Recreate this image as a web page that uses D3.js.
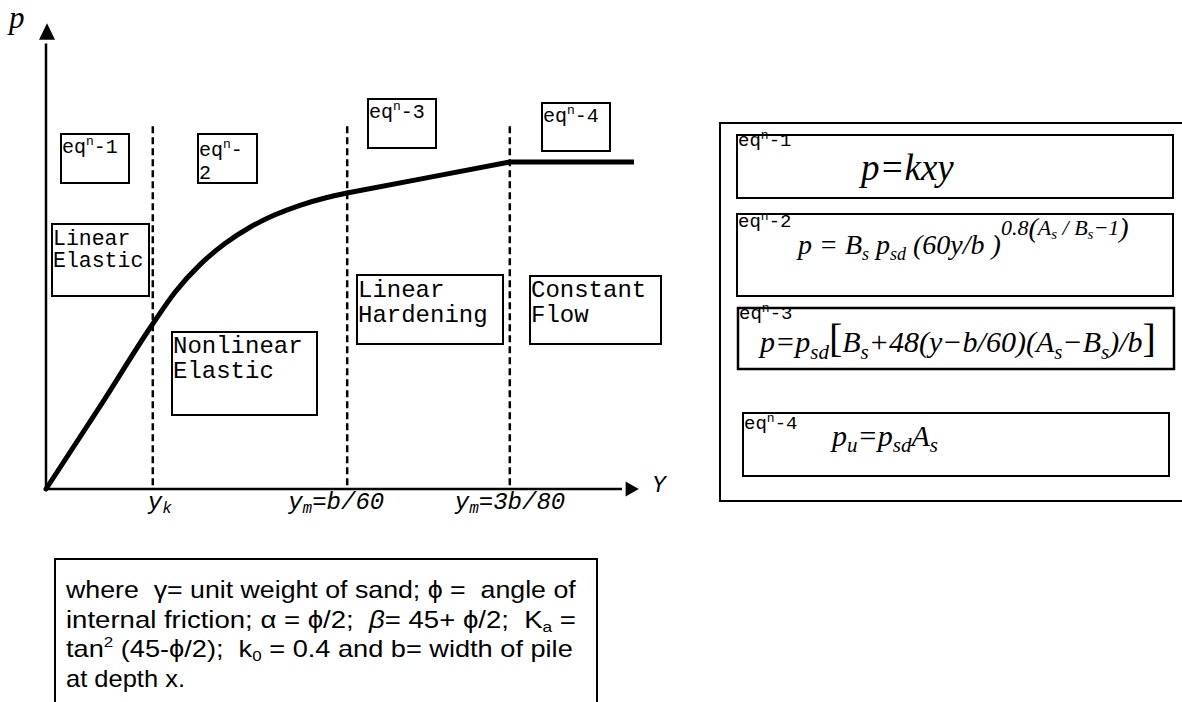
<!DOCTYPE html>
<html><head><meta charset="utf-8">
<script src="https://cdn.jsdelivr.net/npm/d3@7/dist/d3.min.js"></script>
<style>body{margin:0;background:#fff;overflow:hidden} svg{display:block} text{white-space:pre}</style>
</head><body><svg id="c" width="1182" height="702"></svg>
<script>
// ---- data (normalised units: displacement y 0-100, resistance p 0-100) ----
const dispNonlinear = [0, 9.0, 17.67, 21.5, 25.67, 29.83, 34.0, 38.17, 42.33, 46.5, 50.17];
const pNonlinear    = [0, 17.8, 35.34, 42.41, 48.36, 52.91, 56.42, 59.09, 61.14, 62.72, 63.79];
const dispLinear    = [50.17, 63.2, 77.3, 98.0];
const pLinear       = [63.79, 67.0, 70.5, 70.5];
const regionBounds  = [17.8, 50.2, 77.3];
const boundTop      = 78.2;
const tickLabels    = [["y", "k", ""], ["y", "m", "=b/60"], ["y", "m", "=3b/80"]];
const regionNames   = [["Linear", "Elastic"], ["Nonlinear", "Elastic"], ["Linear", "Hardening"], ["Constant", "Flow"]];
const eqNumbers     = ["1", "2", "3", "4"];

const svg = d3.select("#c");
const x = d3.scaleLinear().domain([0, 100]).range([46, 646]);
const y = d3.scaleLinear().domain([0, 100]).range([489, 25]);
const mono = "'Liberation Mono','Courier New',monospace";
const serif = "'Liberation Serif','Times New Roman',serif";
const sans = "'Liberation Sans',Arial,sans-serif";

function rich(sel, px, py, parts, o) {
  const t = sel.append("text").attr("x", px).attr("y", py)
    .attr("font-family", o.family).attr("font-size", o.size)
    .attr("font-style", o.italic ? "italic" : "normal").attr("fill", "#000");
  let cur = 0;
  parts.forEach(p => {
    const [txt, opt = {}] = Array.isArray(p) ? p : [p];
    const target = -(opt.shift || 0);
    const ts = t.append("tspan").attr("dy", target - cur).text(txt);
    if (opt.size) ts.attr("font-size", opt.size);
    if (opt.italic !== undefined) ts.attr("font-style", opt.italic ? "italic" : "normal");
    if (opt.family) ts.attr("font-family", opt.family);
    cur = target;
  });
  return t;
}
// sequence of separate text elements laid out left to right (o.rise lifts a segment)
function chain(sel, px, py, segs) {
  let cx = px;
  segs.forEach(([parts, o]) => {
    const t = rich(sel, cx, py - (o.rise || 0), parts, o);
    cx += t.node().getComputedTextLength();
  });
}
function box(sel, x0, y0, x1, y1, w) {
  sel.append("rect").attr("x", x0).attr("y", y0).attr("width", x1 - x0).attr("height", y1 - y0)
    .attr("fill", "none").attr("stroke", "#000").attr("stroke-width", w || 2);
}

// ---- axes ----
const ax = svg.append("g");
ax.append("line").attr("x1", x(0)).attr("y1", y(0)).attr("x2", x(0)).attr("y2", y(96)).attr("stroke", "#000").attr("stroke-width", 2.5);
ax.append("path").attr("d", `M${x(0)+1},${y(100.4)} L${x(0)-7},${y(96.8)} L${x(0)+9},${y(96.8)} Z`).attr("fill", "#000");
ax.append("line").attr("x1", x(0)).attr("y1", y(0)).attr("x2", x(96)).attr("y2", y(0)).attr("stroke", "#000").attr("stroke-width", 2.5);
ax.append("path").attr("d", `M${x(98.8)},${y(0)} L${x(96.6)},${y(0)-7.5} L${x(96.6)},${y(0)+7.5} Z`).attr("fill", "#000");
svg.append("text").attr("x", 9).attr("y", 28).attr("font-family", serif).attr("font-style", "italic").attr("font-size", 31).text("p");
svg.append("text").attr("x", 652).attr("y", 492).attr("font-family", mono).attr("font-style", "italic").attr("font-size", 23).text("Y");

// ---- region boundaries ----
svg.append("g").selectAll("line").data(regionBounds).join("line")
  .attr("x1", d => x(d)).attr("x2", d => x(d)).attr("y1", y(boundTop)).attr("y2", y(0))
  .attr("stroke", "#000").attr("stroke-width", 2.5).attr("stroke-dasharray", "7,4");

// tick labels
const tickOffsets = [-5, -59, -55];
tickLabels.forEach((t, i) => {
  rich(svg, x(regionBounds[i]) + tickOffsets[i], 509,
    [t[0], [t[1], {shift: -4, size: 16}], [t[2], {shift: 0}]],
    {family: mono, size: 24, italic: true});
});

// ---- curve ----
const lineMono = d3.line().x(d => x(d[0])).y(d => y(d[1])).curve(d3.curveMonotoneX);
const lineLin = d3.line().x(d => x(d[0])).y(d => y(d[1]));
svg.append("path").attr("d", lineMono(dispNonlinear.map((d, i) => [d, pNonlinear[i]])))
  .attr("fill", "none").attr("stroke", "#000").attr("stroke-width", 5).attr("stroke-linecap", "round");
svg.append("path").attr("d", lineLin(dispLinear.map((d, i) => [d, pLinear[i]])))
  .attr("fill", "none").attr("stroke", "#000").attr("stroke-width", 5).attr("stroke-linejoin", "round");

// ---- annotation boxes in chart ----
const eqBoxes = [[61, 134, 129, 183], [198, 134, 257, 183], [368, 99, 436, 148], [542, 103, 610, 151]];
eqBoxes.forEach((b, i) => {
  box(svg, ...b);
  if (i === 1) {
    rich(svg, b[0] + 1, b[1] + 22, ["eq", ["n", {shift: 8, size: 13}], ["-", {shift: 0}]], {family: mono, size: 20});
    rich(svg, b[0] + 1, b[1] + 45, [eqNumbers[i]], {family: mono, size: 20});
  } else {
    rich(svg, b[0] + 1, b[1] + 19, ["eq", ["n", {shift: 8, size: 13}], ["-" + eqNumbers[i], {shift: 0}]], {family: mono, size: 20});
  }
});
const regionBoxes = [[52, 224, 149, 296, 21.5, 21, 22], [172, 332, 317, 415, 24, 21, 25], [357, 275, 503, 344, 24, 22, 25], [530, 276, 661, 344, 24, 21, 25]];
regionBoxes.forEach((b, i) => {
  box(svg, b[0], b[1], b[2], b[3]);
  const t = svg.append("text").attr("font-family", mono).attr("font-size", b[4]);
  regionNames[i].forEach((s, j) => t.append("tspan").attr("x", b[0] + 1).attr("y", b[1] + b[5] + j * b[6]).text(s));
});

// ---- right panel ----
const rp = svg.append("g");
box(rp, 720, 123, 1195, 501, 2);
box(rp, 737, 135, 1173, 198);
box(rp, 737, 214, 1173, 296);
box(rp, 738, 308, 1174, 369, 2.5);
box(rp, 743, 413, 1169, 476);
const hd = (px, py, n) => rich(rp, px, py, ["eq", ["n", {shift: 7, size: 13}], ["-" + n, {shift: 0}]], {family: mono, size: 19});
hd(738, 146, "1"); hd(738, 227, "2"); hd(739, 319, "3"); hd(744, 429, "4");

rich(rp, 861, 180, ["p=kxy"], {family: serif, size: 37, italic: true});
chain(rp, 798, 254, [
  [["p = B", ["s", {shift: -6, size: 18}], [" p", {shift: 0}], ["sd", {shift: -6, size: 18}], [" (60y/b )", {shift: 0}]], {family: serif, size: 28, italic: true}],
  [["0.8", ["(", {shift: -2, size: 28}], ["A", {shift: 0}], ["s", {shift: -4, size: 15}],
    [" / B", {shift: 0}], ["s", {shift: -4, size: 15}], ["−1", {shift: 0}], [")", {shift: -2, size: 28}]], {family: serif, size: 22, italic: true, rise: 19}]
]);
const f3 = {family: serif, size: 30, italic: true};
const f3b = {family: serif, size: 40, italic: false};
chain(rp, 760, 352, [
  [["p=p", ["sd", {shift: -7, size: 21}]], f3],
  [["["], f3b],
  [["B", ["s", {shift: -7, size: 21}], ["+48(y−b/60)(A", {shift: 0}], ["s", {shift: -7, size: 21}], ["−B", {shift: 0}], ["s", {shift: -7, size: 21}], [")/b", {shift: 0}]], f3],
  [["]"], f3b]
]);
rich(rp, 832, 446, ["p", ["u", {shift: -6, size: 21}], ["=p", {shift: 0}], ["sd", {shift: -6, size: 21}], ["A", {shift: 0}], ["s", {shift: -6, size: 21}]],
  {family: serif, size: 30, italic: true});

// ---- bottom note ----
const nt = svg.append("g");
box(nt, 55, 559, 597, 720, 2);
const ns = {family: sans, size: 24};
const noteLines = [
  [598, 510, ["where  ", "γ", "= unit weight of sand; ϕ =  angle of"]],
  [628, 510, ["internal friction; α = ϕ/2;  ", ["β", {italic: true}], ["= 45+ ϕ/2;  K", {italic: false}], ["a", {shift: -4, size: 15}], [" =", {shift: 0}]]],
  [657, 507, ["tan", ["2", {shift: 10, size: 15}], [" (45-ϕ/2);  k", {shift: 0}], ["0", {shift: -4, size: 15}], [" = 0.4 and b= width of pile", {shift: 0}]]],
  [687, 119, ["at depth x."]]
];
noteLines.forEach(([by, w, parts]) => {
  const g = nt.append("g");
  const t = rich(g, 0, 0, parts, ns);
  const len = t.node().getComputedTextLength();
  g.attr("transform", `translate(66,${by}) scale(${w / len},1)`);
});
</script></body></html>
